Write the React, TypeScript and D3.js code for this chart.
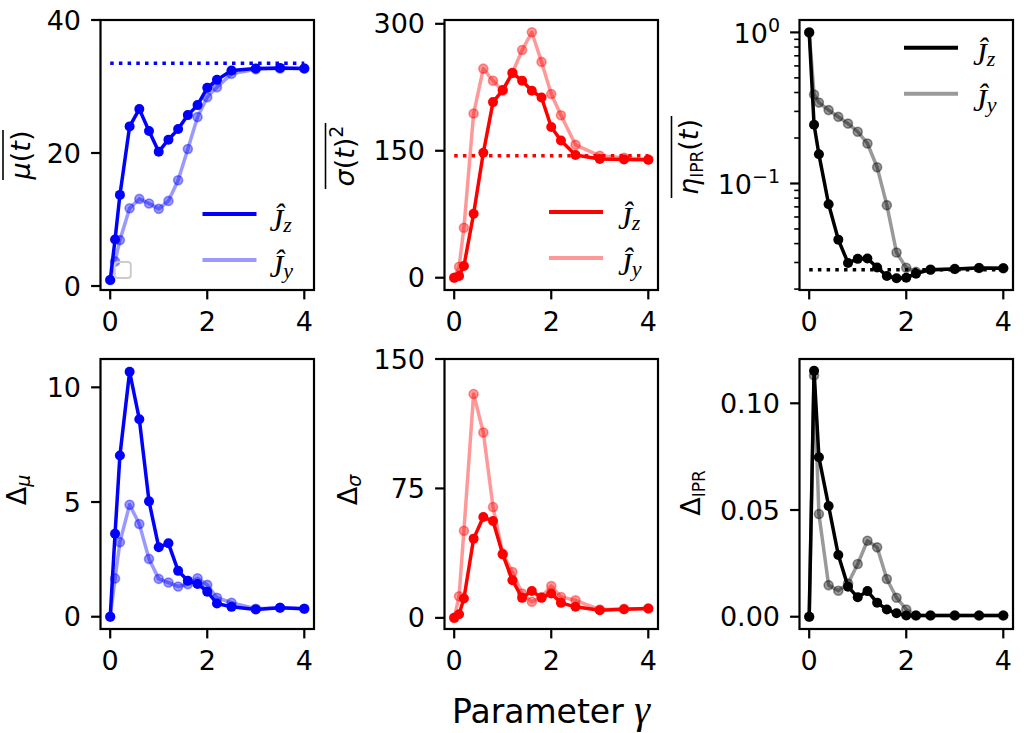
import React from 'react';
import * as d3 from 'd3';

// ---------------- data ----------------
const gammas = [0, 0.1, 0.2, 0.4, 0.6, 0.8, 1.0, 1.2, 1.4, 1.6, 1.8, 2.0, 2.2, 2.5, 3.0, 3.5, 4.0];

const muJz = [0.9, 7.0, 13.7, 24.0, 26.6, 23.3, 20.2, 22.0, 23.6, 25.7, 27.2, 29.8, 31.0, 32.4, 32.7, 32.8, 32.7];
const muJy = [0.9, 3.7, 6.9, 11.7, 13.1, 12.4, 11.6, 12.8, 15.9, 20.6, 25.4, 28.4, 29.9, 31.9, 32.6, 32.7, 32.7];
const muRef = 33.5;

const sigmaJz = [0, 2, 13.8, 75.6, 147.6, 207.5, 221.7, 242, 232.7, 220.9, 213, 178, 162.2, 144.9, 140.2, 139.8, 139.4];
const sigmaJy = [0, 13, 59, 194, 247, 232.7, 221, 242, 269, 290, 255, 217, 192, 157, 144, 141.7, 139.8];
const sigmaRef = 144;

const iprJz = [1.0, 0.245, 0.156, 0.0729, 0.0425, 0.0298, 0.0317, 0.0319, 0.0278, 0.0244, 0.0236, 0.0238, 0.0253, 0.0269, 0.0272, 0.0276, 0.0275];
const iprJy = [1.0, 0.388, 0.343, 0.306, 0.276, 0.249, 0.220, 0.184, 0.128, 0.0719, 0.0349, 0.0277, 0.026, 0.0269, 0.0272, 0.0276, 0.0275];
const iprRef = 0.0269;

const dMuJz = [0, 3.62, 7.03, 10.68, 8.61, 5.03, 3.03, 3.2, 2.0, 1.57, 1.43, 1.09, 0.58, 0.43, 0.32, 0.39, 0.35];
const dMuJy = [0, 1.67, 3.25, 4.88, 4.04, 2.52, 1.65, 1.49, 1.32, 1.42, 1.68, 1.39, 0.83, 0.61, 0.35, 0.39, 0.35];

const dSigmaJz = [0, 2.1, 11.2, 45.9, 58.4, 56.1, 36.8, 21.8, 11.6, 15.6, 11.6, 14.1, 8.7, 6.4, 4.4, 5.0, 5.4];
const dSigmaJy = [0, 12.5, 50.5, 129.7, 107.4, 64.2, 37.2, 26.6, 14.1, 9.3, 12.1, 18.5, 12.1, 10.2, 4.8, 5.2, 5.4];

const dIprJz = [0, 0.1152, 0.0747, 0.0519, 0.0289, 0.0141, 0.0091, 0.012, 0.0066, 0.0034, 0.0016, 0.0006, 0.0006, 0.0006, 0.0006, 0.0006, 0.0006];
const dIprJy = [0, 0.113, 0.0481, 0.0148, 0.0122, 0.0156, 0.0247, 0.0356, 0.0325, 0.0177, 0.0089, 0.0034, 0.0006, 0.0006, 0.0006, 0.0006, 0.0006];

const xTicks = [0, 2, 4];
const muTicks = [0, 20, 40];
const sigmaTicks = [0, 150, 300];
const iprMajorTicks = [1, 0.1];
const iprMinorTicks = [0.02, 0.03, 0.04, 0.05, 0.06, 0.07, 0.08, 0.09, 0.2, 0.3, 0.4, 0.5, 0.6, 0.7, 0.8, 0.9];
const dMuTicks = [0, 5, 10];
const dSigmaTicks = [0, 75, 150];
const dIprTicks = [0, 0.05, 0.1];

// stray legend-handle box in the first panel (data coords)
const strayBox = [{ x: 0.26, y: 2.4 }];

// ---------------- layout ----------------
const W = 1026, H = 733;
const colLeft = [100.5, 444.5, 799.5];
const colW = 213.5;
const rowTop = [20, 359];
const rowH = 270;
const FONT = "'DejaVu Sans', sans-serif";
const SERIF = "'Liberation Serif', 'DejaVu Serif', serif";
const FS = 27;
const BLUE = '#0000ff', RED = '#ff0000', BLACK = '#000000';

type PanelCfg = {
  col: number; row: number;
  yDomain: [number, number]; log?: boolean;
  ticks: number[]; minor?: number[]; fmt: (v: number) => any;
  a: number[]; b: number[]; color: string; ref?: number;
  legend?: { dx: number; dy: number; tx: number };
  ylabel: (left: number, cy: number) => any;
};

const supLabel = (v: number) => {
  const e = Math.round(Math.log10(v));
  return (
    <>
      10<tspan dy={-11} fontSize={19}>{e < 0 ? '\u2212' + Math.abs(e) : String(e)}</tspan>
    </>
  );
};

const panels: PanelCfg[] = [
  {
    col: 0, row: 0, yDomain: [-0.6, 40], ticks: muTicks, fmt: (v) => String(v),
    a: muJz, b: muJy, color: BLUE, ref: muRef,
    legend: { dx: 102, dy: 194, tx: 169 },
    ylabel: (left, cy) => (
      <g transform={`translate(${left - 70.5},${cy}) rotate(-90)`}>
        <text textAnchor="middle" fontFamily={FONT} fontSize={FS}>
          <tspan fontStyle="italic">μ</tspan>(<tspan fontStyle="italic">t</tspan>)
        </text>
        <line x1={-25} x2={25} y1={-27} y2={-27} stroke="#000" strokeWidth={1.6} />
      </g>
    ),
  },
  {
    col: 1, row: 0, yDomain: [-14.5, 304.5], ticks: sigmaTicks, fmt: (v) => String(v),
    a: sigmaJz, b: sigmaJy, color: RED, ref: sigmaRef,
    legend: { dx: 104.5, dy: 192, tx: 173.5 },
    ylabel: (left, cy) => (
      <g transform={`translate(${left - 91},${cy + 1}) rotate(-90)`}>
        <text textAnchor="middle" fontFamily={FONT} fontSize={FS}>
          <tspan fontStyle="italic">σ</tspan>(<tspan fontStyle="italic">t</tspan>)<tspan dy={-11} fontSize={19}>2</tspan>
        </text>
        <line x1={-33} x2={33} y1={-28} y2={-28} stroke="#000" strokeWidth={1.6} />
      </g>
    ),
  },
  {
    col: 2, row: 0, yDomain: [Math.pow(10, -1.705), Math.pow(10, 0.082)], log: true,
    ticks: iprMajorTicks, minor: iprMinorTicks, fmt: supLabel,
    a: iprJz, b: iprJy, color: BLACK, ref: iprRef,
    legend: { dx: 104.5, dy: 27.7, tx: 173.5 },
    ylabel: (left, cy) => (
      <g transform={`translate(${left - 102},${cy + 2}) rotate(-90)`}>
        <text textAnchor="middle" fontFamily={FONT} fontSize={FS}>
          <tspan fontStyle="italic">η</tspan><tspan fontSize={17} dy={5}>IPR</tspan><tspan dy={-5}>(</tspan><tspan fontStyle="italic">t</tspan>)
        </text>
        <line x1={-41} x2={41} y1={-26} y2={-26} stroke="#000" strokeWidth={1.6} />
      </g>
    ),
  },
  {
    col: 0, row: 1, yDomain: [-0.535, 11.235], ticks: dMuTicks, fmt: (v) => String(v),
    a: dMuJz, b: dMuJy, color: BLUE,
    ylabel: (left, cy) => (
      <g transform={`translate(${left - 74.5},${cy - 4}) rotate(-90)`}>
        <text textAnchor="middle" fontFamily={FONT} fontSize={FS}>
          Δ<tspan fontStyle="italic" fontSize={19} dy={4}>μ</tspan>
        </text>
      </g>
    ),
  },
  {
    col: 1, row: 1, yDomain: [-6.45, 150], ticks: dSigmaTicks, fmt: (v) => String(v),
    a: dSigmaJz, b: dSigmaJy, color: RED,
    ylabel: (left, cy) => (
      <g transform={`translate(${left - 88},${cy - 4}) rotate(-90)`}>
        <text textAnchor="middle" fontFamily={FONT} fontSize={FS}>
          Δ<tspan fontStyle="italic" fontSize={19} dy={4}>σ</tspan>
        </text>
      </g>
    ),
  },
  {
    col: 2, row: 1, yDomain: [-0.00575, 0.12075], ticks: dIprTicks, fmt: (v) => d3.format('.2f')(v),
    a: dIprJz, b: dIprJy, color: BLACK,
    ylabel: (left, cy) => (
      <g transform={`translate(${left - 99.5},${cy - 1}) rotate(-90)`}>
        <text textAnchor="middle" fontFamily={FONT} fontSize={FS}>
          Δ<tspan fontSize={17} dy={5}>IPR</tspan>
        </text>
      </g>
    ),
  },
];

function Series({ x, y, vals, color, light }: any) {
  const line = d3.line<number>().x((_, i) => x(gammas[i])).y((d) => y(d));
  return (
    <g>
      <path d={line(vals) || ''} fill="none" stroke={color} strokeOpacity={light ? 0.4 : 1}
        strokeWidth={3.5} strokeLinejoin="round" />
      {vals.map((v: number, i: number) => (
        <circle key={i} cx={x(gammas[i])} cy={y(v)} r={light ? 4.5 : 5} fill={color}
          fillOpacity={light ? 0.4 : 1} stroke={light ? color : 'none'} strokeOpacity={0.4}
          strokeWidth={1.6} />
      ))}
    </g>
  );
}

function LegendEntry({ x0, y0, tx, color, light, sub }: any) {
  return (
    <g>
      <line x1={x0} x2={x0 + 54} y1={y0} y2={y0} stroke={color} strokeOpacity={light ? 0.4 : 1} strokeWidth={4} />
      <text x={tx} y={y0 + 17} fontFamily={SERIF} fontStyle="italic" fontSize={31}>
        Ĵ<tspan fontSize={22} dy={1}>{sub}</tspan>
      </text>
    </g>
  );
}

function Panel({ cfg }: { cfg: PanelCfg }) {
  const left = colLeft[cfg.col];
  const top = rowTop[cfg.row];
  const right = left + colW;
  const bottom = top + rowH;
  const x = d3.scaleLinear().domain([-0.2, 4.2]).range([left, right]);
  const y: any = cfg.log
    ? d3.scaleLog().domain(cfg.yDomain).range([bottom, top])
    : d3.scaleLinear().domain(cfg.yDomain).range([bottom, top]);
  const cy = (top + bottom) / 2;
  return (
    <g>
      {cfg.ref !== undefined && (
        <line x1={x(0)} x2={x(4)} y1={y(cfg.ref)} y2={y(cfg.ref)} stroke={cfg.color}
          strokeWidth={3.5} strokeDasharray="3.5 5.2" />
      )}
      <Series x={x} y={y} vals={cfg.a} color={cfg.color} light={false} />
      <Series x={x} y={y} vals={cfg.b} color={cfg.color} light={true} />
      {cfg.col === 0 && cfg.row === 0 && strayBox.map((s, i) => (
        <rect key={i} x={x(s.x) - 8} y={y(s.y) - 8} width={16} height={16} rx={3}
          fill="none" stroke="#cccccc" strokeWidth={2} />
      ))}
      {cfg.legend && (
        <g>
          <LegendEntry x0={left + cfg.legend.dx} y0={top + cfg.legend.dy} tx={left + cfg.legend.tx}
            color={cfg.color} light={false} sub="z" />
          <LegendEntry x0={left + cfg.legend.dx} y0={top + cfg.legend.dy + 46} tx={left + cfg.legend.tx}
            color={cfg.color} light={true} sub="y" />
        </g>
      )}
      {/* x ticks */}
      {xTicks.map((t) => (
        <g key={'x' + t}>
          <line x1={x(t)} x2={x(t)} y1={bottom} y2={bottom + 9.4} stroke="#000" strokeWidth={2.2} />
          <text x={x(t)} y={bottom + 41} textAnchor="middle" fontFamily={FONT} fontSize={FS}>{t}</text>
        </g>
      ))}
      {/* y ticks */}
      {(cfg.minor || []).map((t) => (
        <line key={'m' + t} x1={left - 5.3} x2={left} y1={y(t)} y2={y(t)} stroke="#000" strokeWidth={1.6} />
      ))}
      {cfg.ticks.map((t) => (
        <g key={'y' + t}>
          <line x1={left - 9.4} x2={left} y1={y(t)} y2={y(t)} stroke="#000" strokeWidth={2.2} />
          <text x={left - 19.5} y={y(t) + (cfg.log ? 10.5 : 9.5)} textAnchor="end" fontFamily={FONT} fontSize={FS}>
            {cfg.fmt(t)}
          </text>
        </g>
      ))}
      {cfg.ylabel(left, cy)}
      <rect x={left} y={top} width={colW} height={rowH} fill="none" stroke="#000" strokeWidth={2.2} />
    </g>
  );
}

export default function App() {
  return (
    <div style={{ position: 'absolute', left: 0, top: 0 }}>
      <svg width={W} height={H} viewBox={`0 0 ${W} ${H}`} style={{ display: 'block', background: '#fff' }}>
        <rect width={W} height={H} fill="#fff" />
        {panels.map((p, i) => <Panel key={i} cfg={p} />)}
        <text x={551} y={723} textAnchor="middle" fontFamily={FONT} fontSize={33}>
          Parameter <tspan fontFamily={SERIF} fontStyle="italic" fontSize={40}>γ</tspan>
        </text>
      </svg>
    </div>
  );
}
